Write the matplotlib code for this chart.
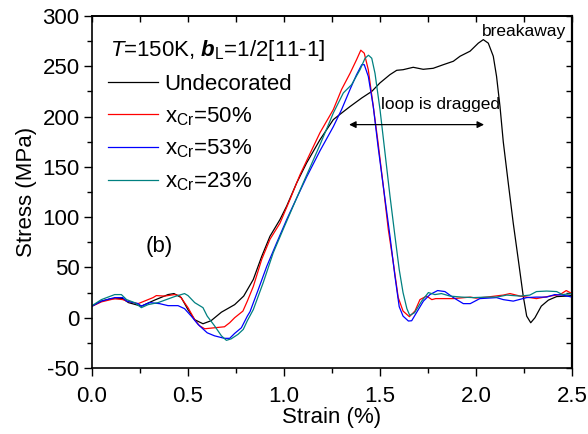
import matplotlib
matplotlib.use("Agg")
import matplotlib.pyplot as plt
from matplotlib.ticker import MultipleLocator

plt.rcParams['font.family'] = ['Liberation Sans', 'DejaVu Sans']
plt.rcParams['mathtext.fontset'] = 'custom'
plt.rcParams['mathtext.rm'] = 'Liberation Sans'
plt.rcParams['mathtext.it'] = 'Liberation Sans:italic'
plt.rcParams['mathtext.bf'] = 'Liberation Sans:bold'
plt.rcParams['mathtext.bfit'] = 'Liberation Sans:bold:italic'
plt.rcParams['axes.unicode_minus'] = False

# ---- data ----
black_x = [0.0, 0.05, 0.10, 0.16, 0.19, 0.257, 0.326, 0.396, 0.427, 0.465, 0.50, 0.535, 0.578, 0.62, 0.674,
           0.743, 0.79, 0.84, 0.884, 0.927, 0.979, 1.014, 1.066, 1.118, 1.1875, 1.257, 1.29, 1.344, 1.405,
           1.457, 1.50, 1.552, 1.587, 1.62, 1.673, 1.725, 1.777, 1.83, 1.882, 1.917, 1.969, 2.012, 2.038,
           2.064, 2.09, 2.107, 2.125, 2.142, 2.168, 2.194, 2.22, 2.246, 2.264, 2.285, 2.307, 2.34, 2.377,
           2.42, 2.47, 2.5]
black_y = [11.5, 16.5, 19, 19, 15, 11.5, 17.5, 23, 24, 20, 8, -2, -6, -3, 5.5,
           13, 21.5, 38, 61, 81, 97.6, 111, 134, 154, 177, 197, 202, 210, 218.5,
           225, 233.5, 241.7, 246, 246.6, 249, 247, 248, 251.6, 255, 260, 265, 273, 276.5,
           273, 260, 240, 210, 175, 134, 94, 58, 21.5, 1.6, -5, 0, 11.5, 17.5,
           21, 21.5, 22]

red_x = [0.0, 0.05, 0.12, 0.16, 0.19, 0.24, 0.26, 0.318, 0.335, 0.378, 0.43, 0.456, 0.50, 0.535, 0.56,
         0.587, 0.638, 0.69, 0.717, 0.743, 0.786, 0.809, 0.84, 0.884, 0.927, 0.979, 1.031, 1.083, 1.135,
         1.1875, 1.257, 1.30, 1.344, 1.378, 1.40, 1.418, 1.439, 1.465, 1.49, 1.517, 1.543, 1.569, 1.595,
         1.62, 1.653, 1.682, 1.708, 1.743, 1.77, 1.79, 1.882, 1.97, 2.0, 2.056, 2.142, 2.177, 2.23,
         2.315, 2.385, 2.4375, 2.47, 2.5]
red_y = [11.5, 15.8, 19, 18, 16, 14, 15.5, 20, 22, 21.5, 23, 22, 10, -2, -8,
         -11, -10, -9, -5, 0, 6.6, 16.5, 31, 58, 78, 94, 117.5, 142, 163,
         184, 207, 227, 243, 256.6, 266, 263, 246.6, 210, 174, 131, 88, 55, 20,
         6.6, 1, 6.6, 18, 21.5, 18, 19, 19, 20.5, 19.5, 20.5, 22.5, 24, 21.5,
         19, 21.5, 23, 27, 24]

blue_x = [0.0, 0.049, 0.118, 0.16, 0.18, 0.24, 0.257, 0.30, 0.352, 0.396, 0.448, 0.482, 0.517, 0.552,
          0.60, 0.638, 0.69, 0.717, 0.743, 0.778, 0.809, 0.823, 0.866, 0.91, 0.962, 1.014, 1.066, 1.118,
          1.1875, 1.257, 1.30, 1.344, 1.378, 1.405, 1.418, 1.439, 1.465, 1.49, 1.517, 1.552, 1.578, 1.60,
          1.62, 1.648, 1.665, 1.69, 1.726, 1.76, 1.80, 1.838, 1.882, 1.934, 1.97, 2.02, 2.107, 2.142,
          2.194, 2.264, 2.315, 2.368, 2.41, 2.45, 2.5]
blue_y = [11.5, 16.5, 20, 20, 16.5, 14, 11.5, 15, 14, 12, 12, 9, 1.6, -6.6,
          -15, -18, -20.5, -20.5, -15.6, -10, 1.6, 6, 28, 51, 74.5, 97.6, 119, 140,
          166, 190, 207, 227, 241.7, 251.6, 251.6, 240, 210, 170, 131, 81, 41, 11,
          1.6, -3.3, -3, 5, 16.5, 23, 27, 26, 20, 14, 14, 19, 20, 18,
          16.5, 20, 20.5, 20.5, 23, 22.5, 20.5]

teal_x = [0.0, 0.049, 0.118, 0.153, 0.18, 0.222, 0.257, 0.292, 0.344, 0.387, 0.43, 0.482, 0.50, 0.535,
          0.578, 0.60, 0.638, 0.674, 0.70, 0.725, 0.76, 0.788, 0.809, 0.84, 0.892, 0.944, 0.996, 1.048,
          1.10, 1.153, 1.1875, 1.257, 1.309, 1.352, 1.396, 1.422, 1.44, 1.457, 1.474, 1.50, 1.526, 1.552,
          1.578, 1.60, 1.62, 1.64, 1.655, 1.68, 1.717, 1.752, 1.786, 1.82, 1.865, 1.925, 1.986, 2.056,
          2.107, 2.16, 2.23, 2.28, 2.315, 2.368, 2.42, 2.45, 2.5]
teal_y = [12, 18, 23, 23, 18, 15, 10, 13, 15, 18, 21, 24, 22, 15,
          10, 1.6, -8, -18, -22.5, -21, -16.6, -11.6, -3, 8, 35, 64.6, 88, 111,
          134, 157, 172, 203.6, 223.5, 231.7, 246.6, 258, 261, 258, 243, 207, 164, 121,
          81, 48, 25, 9, 2.3, 5, 16.5, 25, 23, 24, 21.5, 20.5, 20, 20.5,
          20.5, 22.5, 21.5, 22.5, 26, 26.5, 26, 23, 24]

labels = ['Undecorated', r'x$_{\mathrm{Cr}}$=50%', r'x$_{\mathrm{Cr}}$=53%', r'x$_{\mathrm{Cr}}$=23%']
colors = ['black', '#ff0000', '#0000ff', '#008080']

xticks = [0.0, 0.5, 1.0, 1.5, 2.0, 2.5]
yticks = [-50, 0, 50, 100, 150, 200, 250, 300]

# ---- figure ----
fig = plt.figure(figsize=(5.88, 4.34), dpi=100)
ax = fig.add_axes([92/588, 1-368/434, 480/588, 352/434])

series = [(black_x, black_y), (red_x, red_y), (blue_x, blue_y), (teal_x, teal_y)]
for (sx, sy), lab, c in zip(series, labels, colors):
    ax.plot(sx, sy, color=c, lw=0.9, label=lab)

ax.set_xlim(0, 2.5)
ax.set_ylim(-50, 300)
ax.set_xticks(xticks)
ax.set_xticklabels(['%.1f' % t for t in xticks])
ax.set_yticks(yticks)
ax.xaxis.set_minor_locator(MultipleLocator(0.25))
ax.yaxis.set_minor_locator(MultipleLocator(25))
ax.tick_params(which='major', direction='out', length=6, width=1.0, labelsize=16, pad=3,
               top=False, right=False)
ax.tick_params(which='minor', direction='out', length=3.5, width=1.0, top=False, right=False)
ax.tick_params(axis='x', which='major', pad=7)
for sp in ax.spines.values():
    sp.set_linewidth(1.2)

# mirrored inward ticks on top and right
secx = ax.secondary_xaxis('top')
secx.set_xticks([0.25 * i for i in range(11)])
secx.tick_params(direction='in', length=4, width=1.0, labeltop=False)
secx.spines['top'].set_linewidth(1.2)
secy = ax.secondary_yaxis('right')
secy.set_yticks(list(range(-50, 301, 25)))
secy.tick_params(direction='in', length=4, width=1.0, labelright=False)
secy.spines['right'].set_linewidth(1.6)

ax.set_xlabel('Strain (%)', fontsize=16, labelpad=0)
ax.set_ylabel('Stress (MPa)', fontsize=16, labelpad=4)

ax.text(0.0375, 0.886, r'$\mathit{T}$=150K, $\mathbfit{b}_{\mathrm{L}}$=1/2[11-1]',
        transform=ax.transAxes, fontsize=16, ha='left', va='baseline')

leg = ax.legend(loc='upper left', bbox_to_anchor=(0.033, 0.835), frameon=False, fontsize=16,
                handlelength=2.25, handletextpad=0.3, borderpad=0, borderaxespad=0,
                labelspacing=0.45)

ax.text(0.14, 0.344, '(b)', transform=ax.transAxes, fontsize=16, ha='center', va='center')
ax.text(2.031, 284.4, 'breakaway', fontsize=12.5, ha='left', va='center')
ax.text(1.505, 212, 'loop is dragged', fontsize=12.5, ha='left', va='center')
ax.annotate('', xy=(1.339, 192), xytext=(2.042, 192),
            arrowprops=dict(arrowstyle='<|-|>', color='black', lw=0.9, mutation_scale=10,
                            shrinkA=0, shrinkB=0))

fig.savefig('out.png', dpi=100)
